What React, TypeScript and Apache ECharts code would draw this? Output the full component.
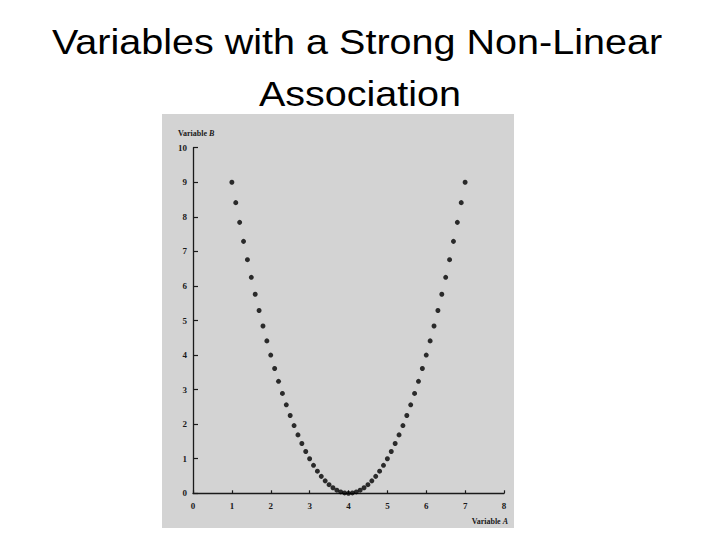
import React, { useEffect, useRef } from "react";
import * as echarts from "echarts";

const titleLines = ["Variables with a Strong Non-Linear", "Association"];
const xAxisLabel = "Variable";
const xAxisLetter = "A";
const yAxisLabel = "Variable";
const yAxisLetter = "B";

const variableA = [
  1.0, 1.1, 1.2, 1.3, 1.4, 1.5, 1.6, 1.7, 1.8, 1.9,
  2.0, 2.1, 2.2, 2.3, 2.4, 2.5, 2.6, 2.7, 2.8, 2.9,
  3.0, 3.1, 3.2, 3.3, 3.4, 3.5, 3.6, 3.7, 3.8, 3.9,
  4.0, 4.1, 4.2, 4.3, 4.4, 4.5, 4.6, 4.7, 4.8, 4.9,
  5.0, 5.1, 5.2, 5.3, 5.4, 5.5, 5.6, 5.7, 5.8, 5.9,
  6.0, 6.1, 6.2, 6.3, 6.4, 6.5, 6.6, 6.7, 6.8, 6.9,
  7.0,
];
const variableB = [
  9.0, 8.41, 7.84, 7.29, 6.76, 6.25, 5.76, 5.29, 4.84, 4.41,
  4.0, 3.61, 3.24, 2.89, 2.56, 2.25, 1.96, 1.69, 1.44, 1.21,
  1.0, 0.81, 0.64, 0.49, 0.36, 0.25, 0.16, 0.09, 0.04, 0.01,
  0.0, 0.01, 0.04, 0.09, 0.16, 0.25, 0.36, 0.49, 0.64, 0.81,
  1.0, 1.21, 1.44, 1.69, 1.96, 2.25, 2.56, 2.89, 3.24, 3.61,
  4.0, 4.41, 4.84, 5.29, 5.76, 6.25, 6.76, 7.29, 7.84, 8.41,
  9.0,
];

export default function App() {
  const ref = useRef<HTMLDivElement>(null);
  useEffect(() => {
    if (!ref.current) return;
    const chart = echarts.init(ref.current, null, { renderer: "svg" });
    const serif = "'Liberation Serif', 'DejaVu Serif', serif";
    const sans = "'Liberation Sans', Arial, sans-serif";
    const axisColor = "#1a1a1a";
    const labelStyle = {
      color: "#1a1a1a",
      fontFamily: serif,
      fontSize: 9,
      fontWeight: "bold" as const,
    };
    chart.setOption({
      animation: false,
      backgroundColor: "#ffffff",
      graphic: [
        {
          type: "rect",
          z: -10,
          shape: { x: 162, y: 114, width: 352, height: 414 },
          style: { fill: "#d3d3d3" },
          silent: true,
        },
        {
          type: "text",
          x: 357,
          y: 42,
          scaleX: 1.13,
          style: {
            text: titleLines[0],
            fontFamily: sans,
            fontSize: 35,
            fill: "#000",
            textAlign: "center",
            textVerticalAlign: "middle",
          },
        },
        {
          type: "text",
          x: 360,
          y: 94,
          scaleX: 1.13,
          style: {
            text: titleLines[1],
            fontFamily: sans,
            fontSize: 35,
            fill: "#000",
            textAlign: "center",
            textVerticalAlign: "middle",
          },
        },
        {
          type: "text",
          x: 178,
          y: 133,
          style: {
            text: yAxisLabel + " {i|" + yAxisLetter + "}",
            fontFamily: serif,
            fontSize: 8,
            fontWeight: "bold",
            fill: "#1a1a1a",
            textAlign: "left",
            textVerticalAlign: "middle",
            rich: {
              i: { fontFamily: serif, fontSize: 8, fontStyle: "italic", fontWeight: "bold", fill: "#1a1a1a" },
            },
          },
        },
        {
          type: "text",
          x: 508,
          y: 521,
          style: {
            text: xAxisLabel + " {i|" + xAxisLetter + "}",
            fontFamily: serif,
            fontSize: 8,
            fontWeight: "bold",
            fill: "#1a1a1a",
            textAlign: "right",
            textVerticalAlign: "middle",
            rich: {
              i: { fontFamily: serif, fontSize: 8, fontStyle: "italic", fontWeight: "bold", fill: "#1a1a1a" },
            },
          },
        },
      ],
      grid: { left: 193, top: 147.7, width: 311, height: 345.6, containLabel: false },
      xAxis: {
        type: "value",
        min: 0,
        max: 8,
        interval: 1,
        axisLine: { show: true, onZero: false, lineStyle: { color: axisColor, width: 1.3 } },
        axisTick: { show: true, inside: true, length: 3, lineStyle: { color: axisColor, width: 1.2 } },
        axisLabel: { ...labelStyle, margin: 8 },
        splitLine: { show: false },
      },
      yAxis: {
        type: "value",
        min: 0,
        max: 10,
        interval: 1,
        axisLine: { show: true, onZero: false, lineStyle: { color: axisColor, width: 1.3 } },
        axisTick: { show: true, inside: true, length: 5, lineStyle: { color: axisColor, width: 1.2 } },
        axisLabel: { ...labelStyle, margin: 6 },
        splitLine: { show: false },
      },
      series: [
        {
          type: "scatter",
          data: variableA.map((a, i) => [a, variableB[i]]),
          symbol: "circle",
          symbolSize: 5,
          itemStyle: { color: "#000" },
        },
      ],
    });
    return () => chart.dispose();
  }, []);
  return (
    <div
      ref={ref}
      style={{ position: "fixed", left: 0, top: 0, width: 720, height: 540 }}
    />
  );
}
